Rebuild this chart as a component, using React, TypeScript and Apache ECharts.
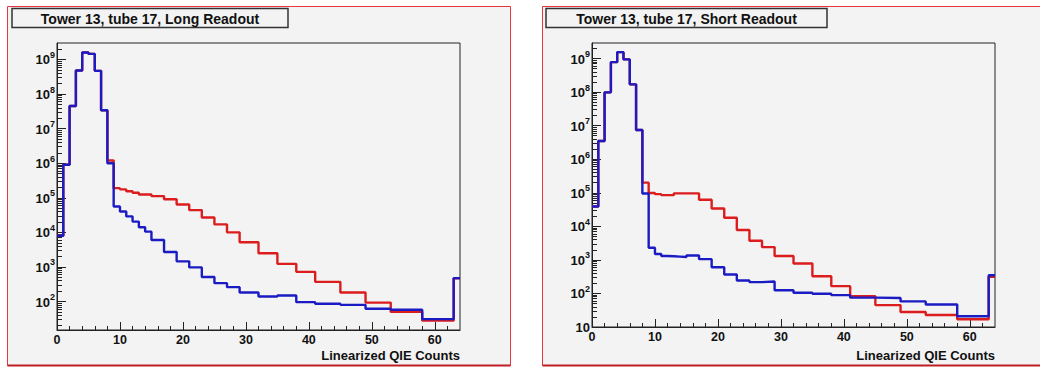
import { useEffect, useRef } from 'react';
import * as echarts from 'echarts';

// Histogram bin edges (linearized QIE counts); bins widen in the tail.
const binEdges = [0, 1, 2, 3, 4, 5, 6, 7, 8, 9, 10, 11, 12, 13, 14, 15, 17, 19, 21, 23, 25, 27, 29, 32, 35, 38, 41, 45, 49, 53, 58, 63, 64];

// Long readout
const longBlue = [8e3, 9e5, 4.5e7, 4.8e8, 1.6e9, 1.45e9, 4.7e8, 3.4e7, 1.0e6, 5.6e4, 4.0e4, 2.9e4, 2.05e4, 1.4e4, 1.05e4, 6.0e3, 2.7e3, 1.45e3, 970, 510, 340, 260, 182, 140, 150, 96, 86, 80, 62, 58, 31, 475];
const longRed = [8e3, 9e5, 4.5e7, 4.8e8, 1.6e9, 1.45e9, 4.7e8, 3.4e7, 1.2e6, 1.9e5, 1.75e5, 1.55e5, 1.4e5, 1.25e5, 1.25e5, 1.12e5, 9.1e4, 6.4e4, 4.4e4, 2.7e4, 1.7e4, 1.0e4, 5.2e3, 2.5e3, 1.23e3, 720, 370, 182, 93, 50, 28, 470];

// Short readout
const shortBlue = [3.9e4, 3.5e6, 9.8e7, 7.8e8, 1.55e9, 9.4e8, 1.7e8, 7.4e6, 9.5e4, 2.3e3, 1.5e3, 1.3e3, 1.28e3, 1.25e3, 1.22e3, 1.35e3, 1.05e3, 600, 365, 243, 218, 228, 125, 105, 98, 89, 75, 73, 58, 47, 21, 350];
const shortRed = [3.9e4, 3.5e6, 9.8e7, 7.8e8, 1.55e9, 9.4e8, 1.7e8, 7.4e6, 2.0e5, 9.8e4, 9.1e4, 8.5e4, 8.5e4, 9.6e4, 9.6e4, 9.6e4, 6.2e4, 3.4e4, 1.8e4, 7.8e3, 3.7e3, 2.4e3, 1.3e3, 780, 325, 165, 83, 45, 28, 22.7, 17, 315];

const xMajorTicks = [0, 10, 20, 30, 40, 50, 60];
const xMinorTicks = [2, 4, 6, 8, 12, 14, 16, 18, 22, 24, 26, 28, 32, 34, 36, 38, 42, 44, 46, 48, 52, 54, 56, 58, 62];
const longDecades = [1e2, 1e3, 1e4, 1e5, 1e6, 1e7, 1e8, 1e9];
const shortDecades = [1e1, 1e2, 1e3, 1e4, 1e5, 1e6, 1e7, 1e8, 1e9];
const longRange = [15, 3e9];
const shortRange = [10, 2.9e9];

const panelTitles = ['Tower 13, tube 17, Long Readout', 'Tower 13, tube 17, Short Readout'];
const xAxisTitle = 'Linearized QIE Counts';

const FONT = '"Liberation Sans", Arial, Helvetica, sans-serif';
const BLUE = '#1b1bc4';
const RED = '#dc1d1d';
const AXIS = '#222';

function toSteps(values: number[]) {
  const pts = values.map((v, i) => [binEdges[i], v]);
  pts.push([binEdges[binEdges.length - 1], values[values.length - 1]]);
  return pts;
}

function minorDecadeTicks(range: number[]) {
  const out: number[] = [];
  for (let e = 0; e <= 10; e++) {
    for (let k = 2; k <= 9; k++) {
      const v = k * Math.pow(10, e);
      if (v > range[0] && v < range[1]) out.push(v);
    }
  }
  return out;
}

function powerLabel(v: number) {
  const e = Math.round(Math.log10(v));
  return e === 1 ? '{b|10}' : `{b|10}{s|${e}}`;
}

const labelRich = {
  b: { fontFamily: FONT, fontWeight: 'bold', fontSize: 13, color: '#111', verticalAlign: 'bottom', lineHeight: 14 },
  s: { fontFamily: FONT, fontWeight: 'bold', fontSize: 9, color: '#111', verticalAlign: 'bottom', lineHeight: 14, padding: [0, 0, 7, 0] },
};

export default function App() {
  const ref = useRef<HTMLDivElement>(null);

  useEffect(() => {
    if (!ref.current) return;
    const chart = echarts.init(ref.current, undefined, { renderer: 'svg' });

    const grids = [
      { left: 57, top: 43, width: 403, height: 287 },
      { left: 592, top: 43, width: 403, height: 284 },
    ];
    const ranges = [longRange, shortRange];
    const decades = [longDecades, shortDecades];

    const xAxes: any[] = [];
    const yAxes: any[] = [];
    grids.forEach((_, g) => {
      xAxes.push({
        gridIndex: g, type: 'value', min: 0, max: 64, position: 'bottom',
        axisLine: { show: true, onZero: false, lineStyle: { color: AXIS, width: 1 } },
        axisTick: { show: true, inside: true, length: 8, customValues: xMajorTicks, lineStyle: { color: AXIS } },
        axisLabel: { customValues: xMajorTicks, margin: 3, fontFamily: FONT, fontWeight: 'bold', fontSize: 12.5, color: '#111' },
        splitLine: { show: false },
      });
      xAxes.push({
        gridIndex: g, type: 'value', min: 0, max: 64, position: 'bottom',
        axisLine: { show: false, onZero: false },
        axisTick: { show: true, inside: true, length: 4, customValues: xMinorTicks, lineStyle: { color: AXIS } },
        axisLabel: { show: false },
        splitLine: { show: false },
      });
      yAxes.push({
        gridIndex: g, type: 'log', logBase: 10, min: ranges[g][0], max: ranges[g][1], position: 'left',
        axisLine: { show: true, onZero: false, lineStyle: { color: AXIS, width: 1 } },
        axisTick: { show: true, inside: true, length: 9, customValues: decades[g], lineStyle: { color: AXIS } },
        axisLabel: { customValues: decades[g], margin: 2, formatter: powerLabel, rich: labelRich },
        splitLine: { show: false },
        minorTick: { show: false },
      });
      yAxes.push({
        gridIndex: g, type: 'log', logBase: 10, min: ranges[g][0], max: ranges[g][1], position: 'left',
        axisLine: { show: false, onZero: false },
        axisTick: { show: true, inside: true, length: 5, customValues: minorDecadeTicks(ranges[g]), lineStyle: { color: AXIS } },
        axisLabel: { show: false },
        splitLine: { show: false },
      });
    });

    const histo = (data: number[], color: string, g: number, z: number) => ({
      type: 'line', xAxisIndex: g * 2, yAxisIndex: g * 2, data: toSteps(data), step: 'end',
      symbol: 'none', lineStyle: { color, width: 2.4 }, z, clip: true,
    });

    const panelBox = (x: number, w: number) => [
      { type: 'rect', z: -10, shape: { x, y: 6.5, width: w, height: 359 }, style: { fill: '#f3f3f3', stroke: '#e8343c', lineWidth: 1 } },
      { type: 'line', z: -9, shape: { x1: x, y1: 365.5, x2: x + w, y2: 365.5 }, style: { stroke: '#c01e24', lineWidth: 2 } },
    ];
    const titleBox = (x: number, w: number, text: string) => [
      { type: 'rect', z: 5, shape: { x, y: 8.5, width: w, height: 19 }, style: { fill: '#f3f3f3', stroke: '#333', lineWidth: 1.5 } },
      { type: 'text', z: 6, x: x + w / 2, y: 18.5, style: { text, font: `bold 14px ${FONT}`, fill: '#111', textAlign: 'center', textVerticalAlign: 'middle' } },
    ];
    const axisTitle = (xRight: number, y: number) => ({
      type: 'text', z: 6, x: xRight, y, style: { text: xAxisTitle, font: `bold 13px ${FONT}`, fill: '#111', textAlign: 'right', textVerticalAlign: 'middle' },
    });

    chart.setOption({
      animation: false,
      backgroundColor: '#ffffff',
      grid: grids.map((gr) => ({ ...gr, show: true, borderColor: AXIS, borderWidth: 1, backgroundColor: 'transparent', containLabel: false })),
      xAxis: xAxes,
      yAxis: yAxes,
      series: [
        histo(longRed, RED, 0, 2),
        histo(longBlue, BLUE, 0, 3),
        histo(shortRed, RED, 1, 2),
        histo(shortBlue, BLUE, 1, 3),
      ],
      graphic: [
        ...panelBox(7.5, 503),
        ...panelBox(542.5, 540),
        ...titleBox(12, 276, panelTitles[0]),
        ...titleBox(546, 281, panelTitles[1]),
        axisTitle(460, 355),
        axisTitle(995, 355),
      ],
    });

    return () => chart.dispose();
  }, []);

  return <div ref={ref} style={{ position: 'absolute', left: 0, top: 0, width: 1040, height: 367 }} />;
}
